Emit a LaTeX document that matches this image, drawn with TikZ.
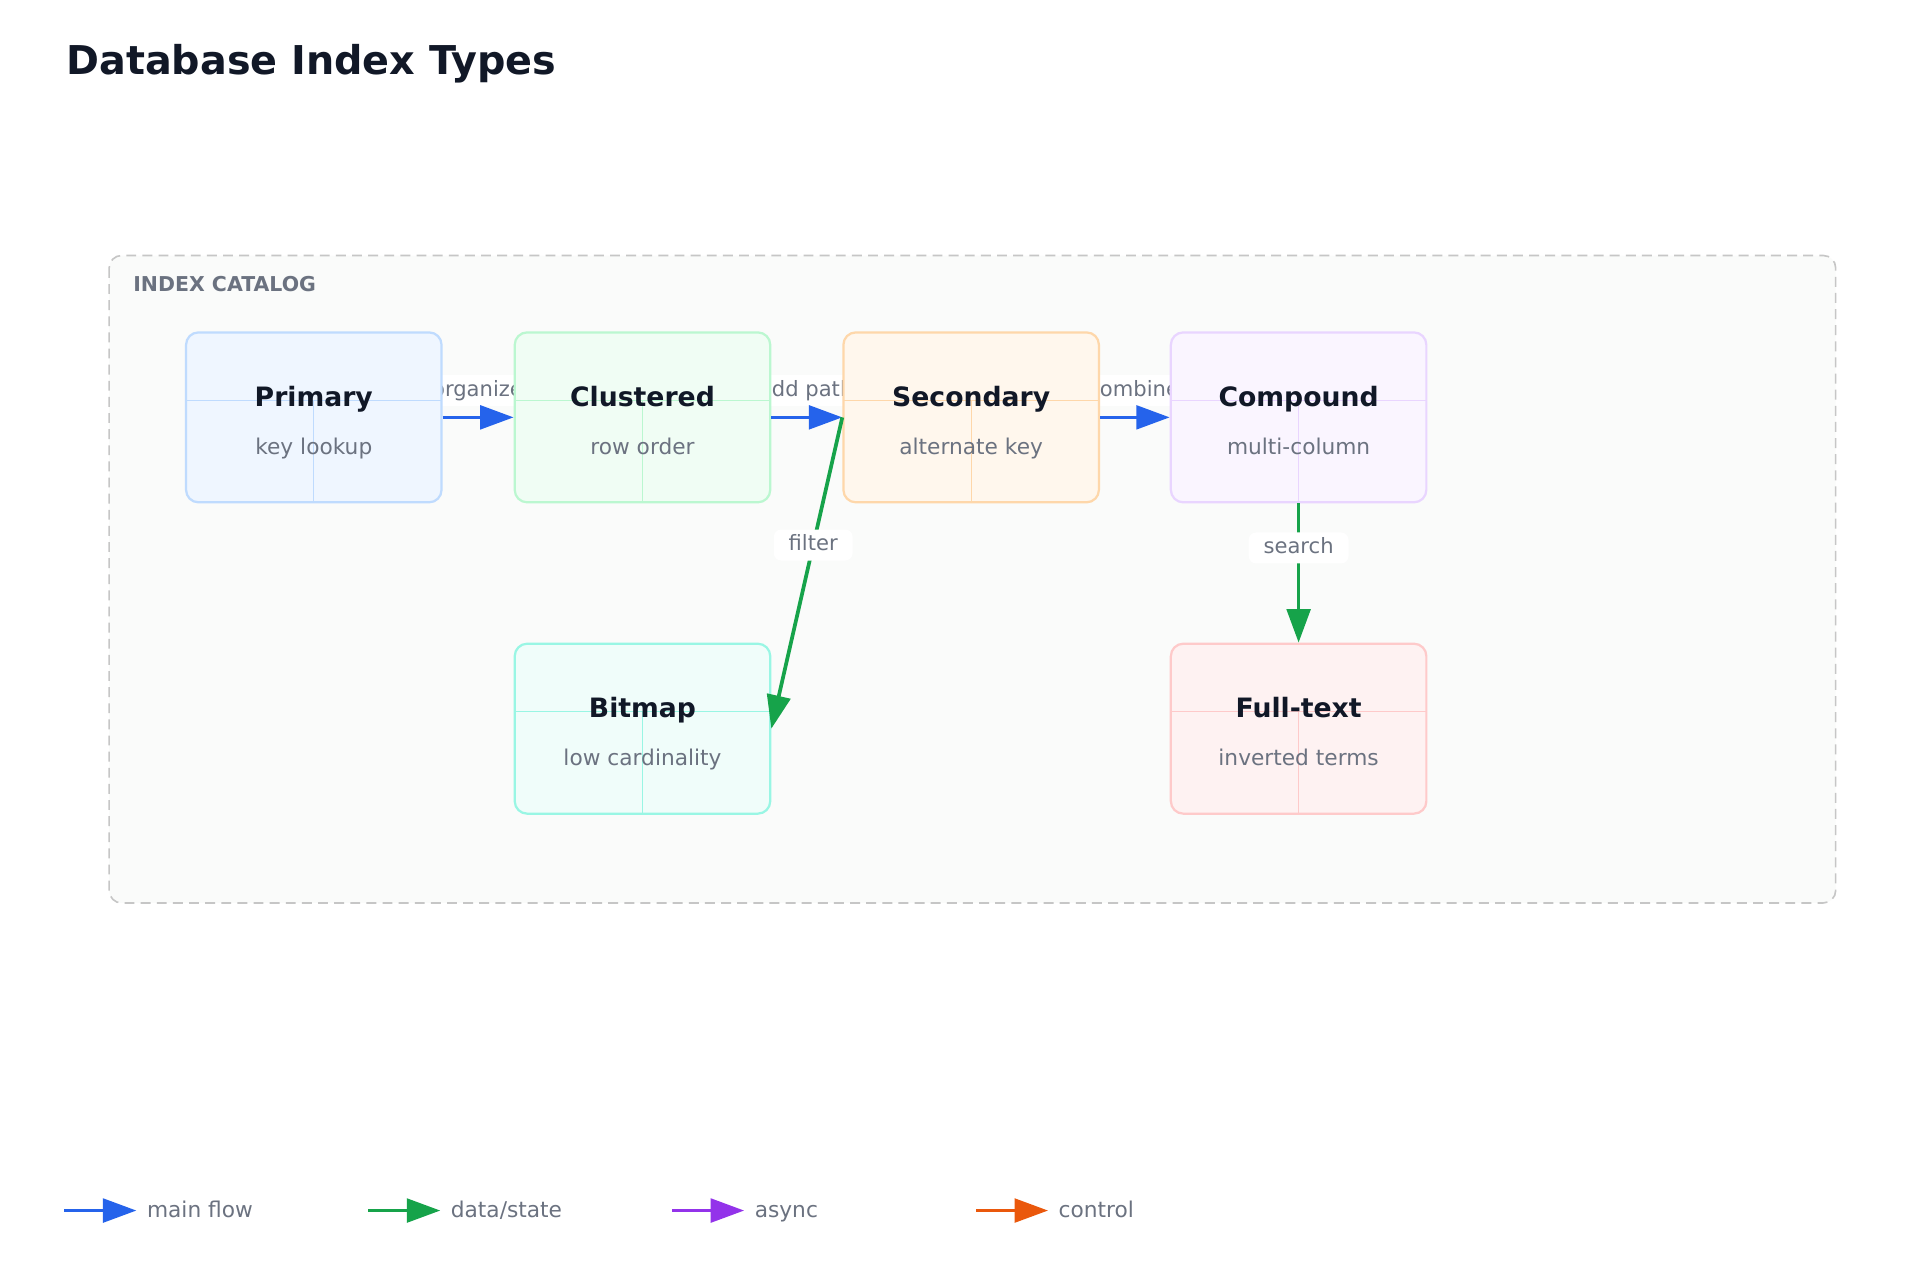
\documentclass[tikz,border=0pt]{standalone}
\usepackage{fontspec}
\setmainfont{DejaVu Sans}
\usetikzlibrary{arrows.meta,positioning}
\definecolor{ink}{HTML}{111827}
\definecolor{muted}{HTML}{6B7280}
\definecolor{framef}{HTML}{FAFBFA}
\definecolor{bluef}{HTML}{EFF6FF}\definecolor{blued}{HTML}{BFDBFE}
\definecolor{greenf}{HTML}{F0FDF4}\definecolor{greend}{HTML}{BBF7D0}
\definecolor{orangef}{HTML}{FFF7ED}\definecolor{oranged}{HTML}{FED7AA}
\definecolor{purplef}{HTML}{FAF5FF}\definecolor{purpled}{HTML}{E9D5FF}
\definecolor{tealf}{HTML}{F0FDFA}\definecolor{teald}{HTML}{99F6E4}
\definecolor{redf}{HTML}{FEF2F2}\definecolor{redd}{HTML}{FECACA}
\definecolor{cmain}{HTML}{2563EB}\definecolor{cdata}{HTML}{16A34A}
\definecolor{casync}{HTML}{9333EA}\definecolor{cctrl}{HTML}{EA580C}
% one index box: name, x, y (top left), colour prefix, title, subtitle
\newcommand{\idxbox}[6]{%
  \node[box, fill=#4f, draw=#4d] (#1) at (#2+103,#3+68.5) {};
  \draw[#4d, line width=0.8pt] (#2,#3+55) -- (#2+206,#3+55);
  \draw[#4d, line width=0.8pt] (#2+103,#3+55) -- (#2+103,#3+137);
  \node[ttl] (#1t) at (#2+103,#3+54) {#5};
  \node[sub] (#1s) at (#2+103,#3+94) {#6};
}
\begin{document}
\begin{tikzpicture}[x=1pt,y=-1pt,
  box/.style={rounded corners=10pt, line width=1.8pt, minimum width=206pt, minimum height=137pt, inner sep=0pt},
  ttl/.style={font=\fontsize{21.5}{24}\selectfont\bfseries, text=ink, text height=15pt, text depth=4pt},
  sub/.style={font=\fontsize{17.5}{20}\selectfont, text=muted, text height=13pt, text depth=4pt},
  lbl/.style={font=\fontsize{17}{20}\selectfont, text=muted, fill=white, rounded corners=6pt, inner xsep=12pt, inner ysep=5pt, text height=12pt, text depth=3pt},
  flow/.style={line width=3pt, -{Triangle[length=27pt,width=19pt]}},
  leg/.style={font=\fontsize{17.5}{20}\selectfont, text=muted, anchor=west, text height=13pt, text depth=4pt}]
\useasboundingbox (0,0) rectangle (1548,1032);
\fill[white] (0,0) rectangle (1548,1032);
\node[font=\fontsize{32}{38}\selectfont\bfseries, text=ink, anchor=west] (title) at (50,51) {Database Index Types};
% catalog frame
\draw[gray!45, line width=1.3pt, dash pattern=on 8pt off 5pt, fill=framef, rounded corners=10pt] (88,206) rectangle (1480,728);
\node[font=\fontsize{16.5}{19}\selectfont\bfseries, text=muted, anchor=west] (cat) at (104,229) {INDEX CATALOG};
% edge labels first, boxes cover them
\node[lbl] (l1) at (385,315) {organize};
\node[lbl] (l2) at (650,315) {add path};
\node[lbl] (l3) at (914,315) {combine};
% boxes
\idxbox{pri}{150}{268}{blue}{Primary}{key lookup}
\idxbox{clu}{415}{268}{green}{Clustered}{row order}
\idxbox{sec}{680}{268}{orange}{Secondary}{alternate key}
\idxbox{com}{944}{268}{purple}{Compound}{multi-column}
\idxbox{bmp}{415}{519}{teal}{Bitmap}{low cardinality}
\idxbox{ful}{944}{519}{red}{Full-text}{inverted terms}
% connectors
\draw[flow, cmain] (pri.east) -- (clu.west);
\draw[flow, cmain] (clu.east) -- (sec.west);
\draw[flow, cmain] (sec.east) -- (com.west);
\draw[flow, cdata] (sec.west) -- node[lbl, pos=0.41] (l4) {filter} (bmp.east);
\draw[flow, cdata] (com.south) -- node[lbl, pos=0.32] (l5) {search} (ful.north);
% legend
\coordinate (m0) at (52,976); \coordinate (m1) at (110,976);
\coordinate (d0) at (297,976); \coordinate (d1) at (355,976);
\coordinate (a0) at (542,976); \coordinate (a1) at (600,976);
\coordinate (c0) at (787,976); \coordinate (c1) at (845,976);
\draw[flow, cmain] (m0) -- (m1);
\draw[flow, cdata] (d0) -- (d1);
\draw[flow, casync] (a0) -- (a1);
\draw[flow, cctrl] (c0) -- (c1);
\node[leg] (lm) at (115,977) {main flow};
\node[leg] (ld) at (360,977) {data/state};
\node[leg] (la) at (605,977) {async};
\node[leg] (lc) at (850,977) {control};
\end{tikzpicture}
\end{document}
